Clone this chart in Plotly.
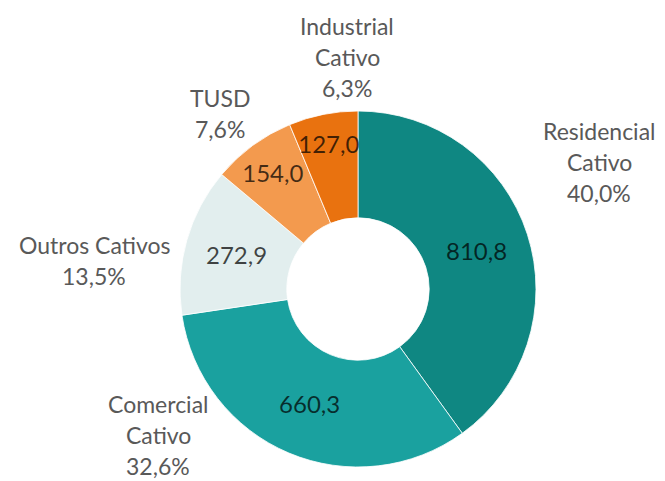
import plotly.graph_objects as go

categories = ["Residencial Cativo", "Comercial Cativo", "Outros Cativos", "TUSD", "Industrial Cativo"]
values = [810.8, 660.3, 272.9, 154.0, 127.0]
colors = ["#0f8782", "#1aa19f", "#e2eeee", "#f39a4e", "#e9720f"]

# outer label layout (target window pixel coords of label block centers)
label_pos = {
    "Residencial Cativo": (599, 162),
    "Comercial Cativo": (158, 435),
    "Outros Cativos": (94, 260),
    "TUSD": (220, 114),
    "Industrial Cativo": (347, 57),
}
label_lines = {
    "Residencial Cativo": ["Residencial", "Cativo"],
    "Comercial Cativo": ["Comercial", "Cativo"],
    "Outros Cativos": ["Outros Cativos"],
    "TUSD": ["TUSD"],
    "Industrial Cativo": ["Industrial", "Cativo"],
}

OFF = 8  # browser body margin
W, H = 665, 481
FONT = "Lato"
FS_IN = 24
FS_OUT = 23
total = sum(values)

cx0, cy0, R = 358 - OFF, 289 - OFF, 178

fig = go.Figure()
fig.add_trace(go.Pie(
    labels=categories,
    values=values,
    sort=False,
    direction="clockwise",
    rotation=0,
    hole=0.40,
    marker=dict(colors=colors, line=dict(color="rgba(255,255,255,0.8)", width=1)),
    texttemplate="%{value:.1f}",
    textposition="inside",
    insidetextorientation="horizontal",
    textfont=dict(family=FONT, size=FS_IN, color="rgba(0,0,0,0.72)"),
    domain=dict(x=[(cx0 - R) / W, (cx0 + R) / W], y=[1 - (cy0 + R) / H, 1 - (cy0 - R) / H]),
    showlegend=False,
    hoverinfo="label+value+percent",
))

line_h = 31
annotations = []
for cat, v in zip(categories, values):
    pct = f"{v / total * 100:.1f}%".replace(".", ",")
    lines = label_lines[cat] + [pct]
    cx, cy = label_pos[cat]
    n = len(lines)
    for i, t in enumerate(lines):
        y = cy + (i - (n - 1) / 2) * line_h - OFF
        annotations.append(dict(
            x=(cx - OFF) / W, y=1 - y / H, xref="paper", yref="paper",
            text=t, showarrow=False, xanchor="center", yanchor="middle",
            font=dict(family=FONT, size=FS_OUT, color="#595959"),
        ))

fig.update_layout(
    width=W, height=H,
    margin=dict(l=0, r=0, t=0, b=0),
    paper_bgcolor="white",
    plot_bgcolor="white",
    separators=",.",
    uniformtext=dict(minsize=FS_IN, mode="show"),
    annotations=annotations,
)

fig.write_html("out.html")
